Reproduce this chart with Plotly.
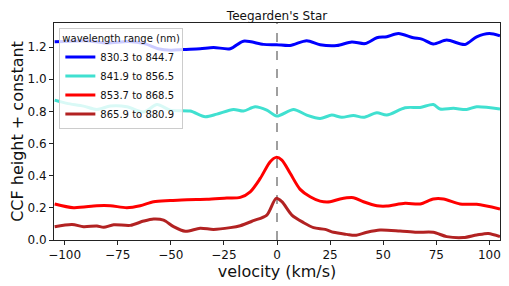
import plotly.graph_objects as go

# --- data ---
v_blue = [-104.7, -100, -90, -80, -70, -62, -56, -50, -44.0, -36.2, -29.9, -22.0, -15.8, -6.4, -0.1, 6.2, 14.0, 20.3, 28.2, 35.2, 41.5, 47.0, 51.7, 57.2, 64.2, 68.2, 73.6, 79.9, 88.5, 94.0, 100.0, 105.0]
y_blue = [1.233, 1.235, 1.24, 1.225, 1.235, 1.22, 1.19, 1.18, 1.185, 1.19, 1.198, 1.19, 1.237, 1.217, 1.215, 1.21, 1.24, 1.215, 1.21, 1.232, 1.222, 1.258, 1.265, 1.285, 1.258, 1.25, 1.22, 1.244, 1.216, 1.264, 1.285, 1.27]

v_turq = [-104.7, -98.9, -91.1, -84.8, -78.5, -70.7, -62.8, -56.5, -50.3, -40.9, -33.8, -28.3, -20.5, -15.8, -10.3, -4.8, -0.1, 7.8, 14.0, 20.3, 25.8, 30.5, 36.0, 40.7, 47.0, 51.7, 60.3, 67.4, 73.6, 76.8, 83.1, 89.3, 94.0, 105.0]
y_turq = [0.870, 0.85, 0.833, 0.812, 0.833, 0.829, 0.796, 0.843, 0.808, 0.802, 0.767, 0.783, 0.812, 0.802, 0.829, 0.808, 0.771, 0.812, 0.777, 0.756, 0.777, 0.763, 0.775, 0.763, 0.792, 0.777, 0.823, 0.825, 0.843, 0.815, 0.819, 0.812, 0.829, 0.815]

v_red = [-104.7, -95.8, -84.8, -78.5, -70.7, -64.4, -58.1, -50.3, -42.4, -33.0, -23.6, -17.3, -12.6, -7.9, -3.2, -0.4, 2.3, 6.2, 10.9, 15.6, 20.3, 25.0, 29.7, 36.0, 40.7, 47.0, 51.7, 60.3, 67.4, 73.6, 78.4, 86.2, 94.0, 105.0]
y_red = [0.224, 0.201, 0.213, 0.213, 0.201, 0.213, 0.238, 0.245, 0.251, 0.253, 0.261, 0.265, 0.30, 0.383, 0.487, 0.514, 0.497, 0.415, 0.315, 0.269, 0.242, 0.238, 0.255, 0.263, 0.238, 0.213, 0.211, 0.228, 0.224, 0.255, 0.255, 0.224, 0.222, 0.193]

v_dred = [-104.7, -96.5, -91.1, -84.8, -81.6, -76.9, -69.1, -62.8, -58.1, -53.4, -48.7, -43.2, -36.2, -29.9, -22.0, -17.3, -11.1, -4.8, -0.4, 2.3, 7.0, 12.5, 17.2, 22.7, 26.6, 32.9, 36.8, 42.3, 48.5, 57.9, 65.8, 73.6, 79.9, 87.8, 94.0, 99.5, 105.0]
y_dred = [0.083, 0.097, 0.083, 0.087, 0.079, 0.095, 0.091, 0.118, 0.131, 0.124, 0.083, 0.054, 0.073, 0.066, 0.077, 0.089, 0.120, 0.155, 0.259, 0.238, 0.155, 0.108, 0.077, 0.066, 0.048, 0.035, 0.029, 0.048, 0.062, 0.056, 0.048, 0.048, 0.021, 0.015, 0.031, 0.041, 0.021]

series_names = ["830.3 to 844.7", "841.9 to 856.5", "853.7 to 868.5", "865.9 to 880.9"]
series_colors = ["#0000ff", "#40e0d0", "#ff0000", "#b22222"]
x_ticks = [-100, -75, -50, -25, 0, 25, 50, 75, 100]
y_ticks = [0.0, 0.2, 0.4, 0.6, 0.8, 1.0, 1.2]

FONT = "DejaVu Sans"

fig = go.Figure()
for vx, vy, name, col in zip([v_blue, v_turq, v_red, v_dred],
                             [y_blue, y_turq, y_red, y_dred],
                             series_names, series_colors):
    fig.add_trace(go.Scatter(x=vx, y=vy, mode="lines", name=name,
                             line=dict(color=col, width=3, shape="spline", smoothing=0.8)))

fig.add_vline(x=0, line=dict(color="grey", width=1.5, dash="dash"), layer="below")

axis_common = dict(showline=True, linecolor="#222", linewidth=1, mirror=True,
                   ticks="outside", ticklen=4, tickcolor="#222", showgrid=False,
                   zeroline=False, automargin=False,
                   tickfont=dict(family=FONT, size=12, color="#111"))

fig.update_layout(
    width=501, height=278,
    margin=dict(l=46, r=9, t=15, b=46, pad=0),
    paper_bgcolor="white", plot_bgcolor="white",
    font=dict(family=FONT, color="#111"),
    title=dict(text="Teegarden's Star", x=0.537, xanchor="center", y=0.972, yanchor="middle",
               font=dict(family=FONT, size=12, color="#111")),
    xaxis=dict(range=[-105, 105], tickvals=x_ticks,
               ticktext=[str(t).replace("-", "\u2212") for t in x_ticks],
               title=dict(text="velocity (km/s)", font=dict(family=FONT, size=16), standoff=2),
               **axis_common),
    yaxis=dict(range=[0, 1.35], tickvals=y_ticks, ticktext=[f"{t:.1f}" for t in y_ticks],
               title=dict(text="CCF height + constant", font=dict(family=FONT, size=16), standoff=9),
               **axis_common),
    legend=dict(x=0.012, y=0.975, xanchor="left", yanchor="top",
                bgcolor="rgba(255,255,255,0.8)", bordercolor="#ccc", borderwidth=1,
                font=dict(family=FONT, size=10), tracegroupgap=0,
                title=dict(text="wavelength range (nm)", font=dict(family=FONT, size=10)),
                itemwidth=30),
    showlegend=True,
)

fig.write_html("out.html")
